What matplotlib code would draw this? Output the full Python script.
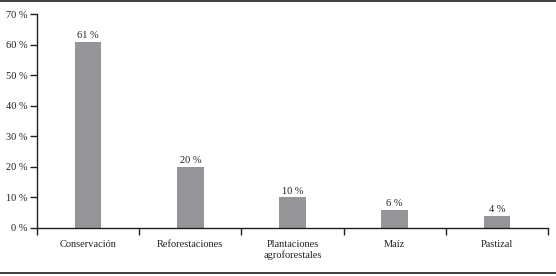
import matplotlib.pyplot as plt
import numpy as np
from matplotlib.lines import Line2D

plt.rcParams['font.family'] = ['Liberation Serif', 'DejaVu Serif']

categories = ['Conservación', 'Reforestaciones', 'Plantaciones\nagroforestales', 'Maíz', 'Pastizal']
values = [61, 20, 10, 6, 4]
yticks = [0, 10, 20, 30, 40, 50, 60, 70]

bar_colour = '#939598'
line_colour = '#231f20'

fig = plt.figure(figsize=(5.56, 2.76), dpi=100)
ax = fig.add_axes([0.0665, 0.174, 0.919, 0.775])

x = np.arange(len(categories))
ax.bar(x, values, width=0.26, color=bar_colour, zorder=2)
for xi, v in zip(x, values):
  ax.text(xi, v + 0.6, '%d %%' % v, ha='center', va='bottom', fontsize=7.5, color=line_colour)

ax.set_xlim(-0.5, len(categories) - 0.5)
ax.set_ylim(0, 70)
ax.set_yticks(yticks)
ax.set_yticklabels(['%d %%' % t for t in yticks], fontsize=7.5, color=line_colour)
ax.set_xticks(np.arange(len(categories) + 1) - 0.5)
ax.set_xticklabels([])
ax.set_xticks(x, minor=True)
ax.set_xticklabels(categories, minor=True, fontsize=7.5, color=line_colour, linespacing=1.1)
ax.tick_params(axis='x', which='minor', length=0, pad=9)
ax.tick_params(axis='x', which='major', length=5, width=1, color=line_colour)
ax.tick_params(axis='y', length=5, width=1, color=line_colour, pad=2)

for s in ['top', 'right']:
  ax.spines[s].set_visible(False)
for s in ['left', 'bottom']:
  ax.spines[s].set_color(line_colour)
  ax.spines[s].set_linewidth(1)

# frame lines at top and bottom of the figure
fig.add_artist(Line2D([0, 1], [0.997, 0.997], color=line_colour, linewidth=1.2, transform=fig.transFigure))
fig.add_artist(Line2D([0, 1], [0.01, 0.01], color=line_colour, linewidth=1.2, transform=fig.transFigure))

plt.savefig('out.png', dpi=100)
